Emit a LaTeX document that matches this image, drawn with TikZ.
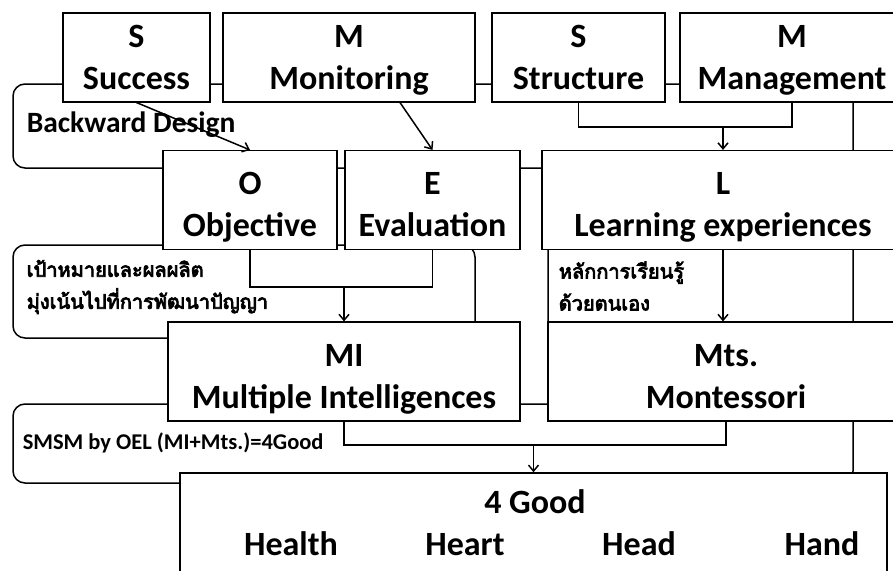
\documentclass[tikz,border=0pt]{standalone}
\usepackage{fontspec}
\setmainfont{Carlito}
\newfontfamily\thaifont[Script=Thai, AutoFakeBold=4]{Loma}
\usetikzlibrary{arrows.meta}

% two lines in a box, first line raised by #1
\newcommand{\duo}[3][44pt]{\rule{0pt}{#1}#2\\#3\rule[-12.6pt]{0pt}{12.6pt}}

\begin{document}
\begin{tikzpicture}[x=1pt, y=-1pt, line width=1.5pt, >={Straight Barb[length=6pt,width=10pt]},
	box/.style={draw, fill=white, align=center, inner sep=0pt, font=\bfseries\fontsize{34}{42}\selectfont},
	grp/.style={draw, rounded corners=12pt, inner sep=0pt},
	word/.style={anchor=base, inner sep=0pt, font=\bfseries\fontsize{34}{42}\selectfont},
	lbl/.style={anchor=west, inner sep=0pt, font=\bfseries\fontsize{29.5}{30}\selectfont},
	thai/.style={anchor=west, align=left, inner sep=0pt, font=\thaifont\bfseries\fontsize{20}{32}\selectfont}]
	\useasboundingbox (0,0) rectangle (893,570);
	\clip (0,0) rectangle (893,570);

	% rounded frames behind the boxes
	\node[grp, minimum width=840pt, minimum height=84pt] (bdgrp) at (433,126) {};
	\node[grp, minimum width=462pt, minimum height=93pt] (objgrp) at (244,291.5) {};
	\node[grp, minimum width=305pt, minimum height=101pt] (lrngrp) at (700.5,286.5) {};
	\node[grp, minimum width=840pt, minimum height=79pt] (smgrp) at (433,443.5) {};

	\node[lbl] (bdtxt) at (26,125) {Backward Design};
	\node[thai] (objth) at (26,287) {เป้าหมายและผลผลิต\\มุ่งเน้นไปที่การพัฒนาปัญญา};
	\node[thai] (lrnth) at (558,286) {หลักการเรียนรู้\\ด้วยตนเอง};
	\node[lbl, font=\bfseries\fontsize{22.5}{26}\selectfont] (smtxt) at (22,443) {SMSM by OEL (MI+Mts.)=4Good};

	% SMSM
	\node[box, minimum width=147pt, minimum height=85pt] (succ) at (136.5,57.5) {\duo[34pt]{S}{Success}};
	\node[box, minimum width=252pt, minimum height=85pt] (mon) at (349,57.5) {\duo[34pt]{M}{Monitoring}};
	\node[box, minimum width=173pt, minimum height=85pt] (str) at (578.5,57.5) {\duo[34pt]{S}{Structure}};
	\node[box, minimum width=224pt, minimum height=85pt] (mng) at (792,57.5) {\duo[34pt]{M}{Management}};

	% OEL
	\node[box, minimum width=174pt, minimum height=94pt] (obj) at (250,200) {\duo{O}{Objective}};
	\node[box, minimum width=175pt, minimum height=94pt] (eva) at (432.5,200) {\duo{E}{Evaluation}};
	\node[box, minimum width=362pt, minimum height=94pt] (lrn) at (723,200) {\duo{L}{Learning experiences}};

	% MI + Mts.
	\node[box, minimum width=352pt, minimum height=93pt] (mi) at (344,371.5) {\duo{MI}{Multiple Intelligences}};
	\node[box, minimum width=356pt, minimum height=93pt] (mts) at (726,371.5) {\duo{Mts.}{Montessori}};

	% 4 Good
	\node[box, minimum width=707pt, minimum height=147pt] (good) at (533.5,546.5) {};
	\node[word] (goodttl) at (535,513) {4 Good};
	\foreach \x/\w in {291/Health, 465/Heart, 639/Head, 822/Hand}
		\node[word] (\w) at (\x,555) {\w};

	% connectors
	\draw[->] (succ.south) -- (obj.north);
	\draw[->] ([xshift=51pt]mon.south) -- (eva.north);

	\coordinate (smjoin) at (723,127);
	\draw (str.south) |- (smjoin) -| (mng.south);
	\draw[->] (smjoin) -- (lrn.north);

	\coordinate (oejoin) at (344,287);
	\draw (obj.south) |- (oejoin) -| (eva.south);
	\draw[->] (oejoin) -- (mi.north);

	\draw[->] (lrn.south) -- (lrn.south |- mts.north);

	\coordinate (mmjoin) at (533.5,445);
	\draw (mi.south) |- (mmjoin) -| (mts.south);
	\draw[->] (mmjoin) -- (good.north);
\end{tikzpicture}
\end{document}
